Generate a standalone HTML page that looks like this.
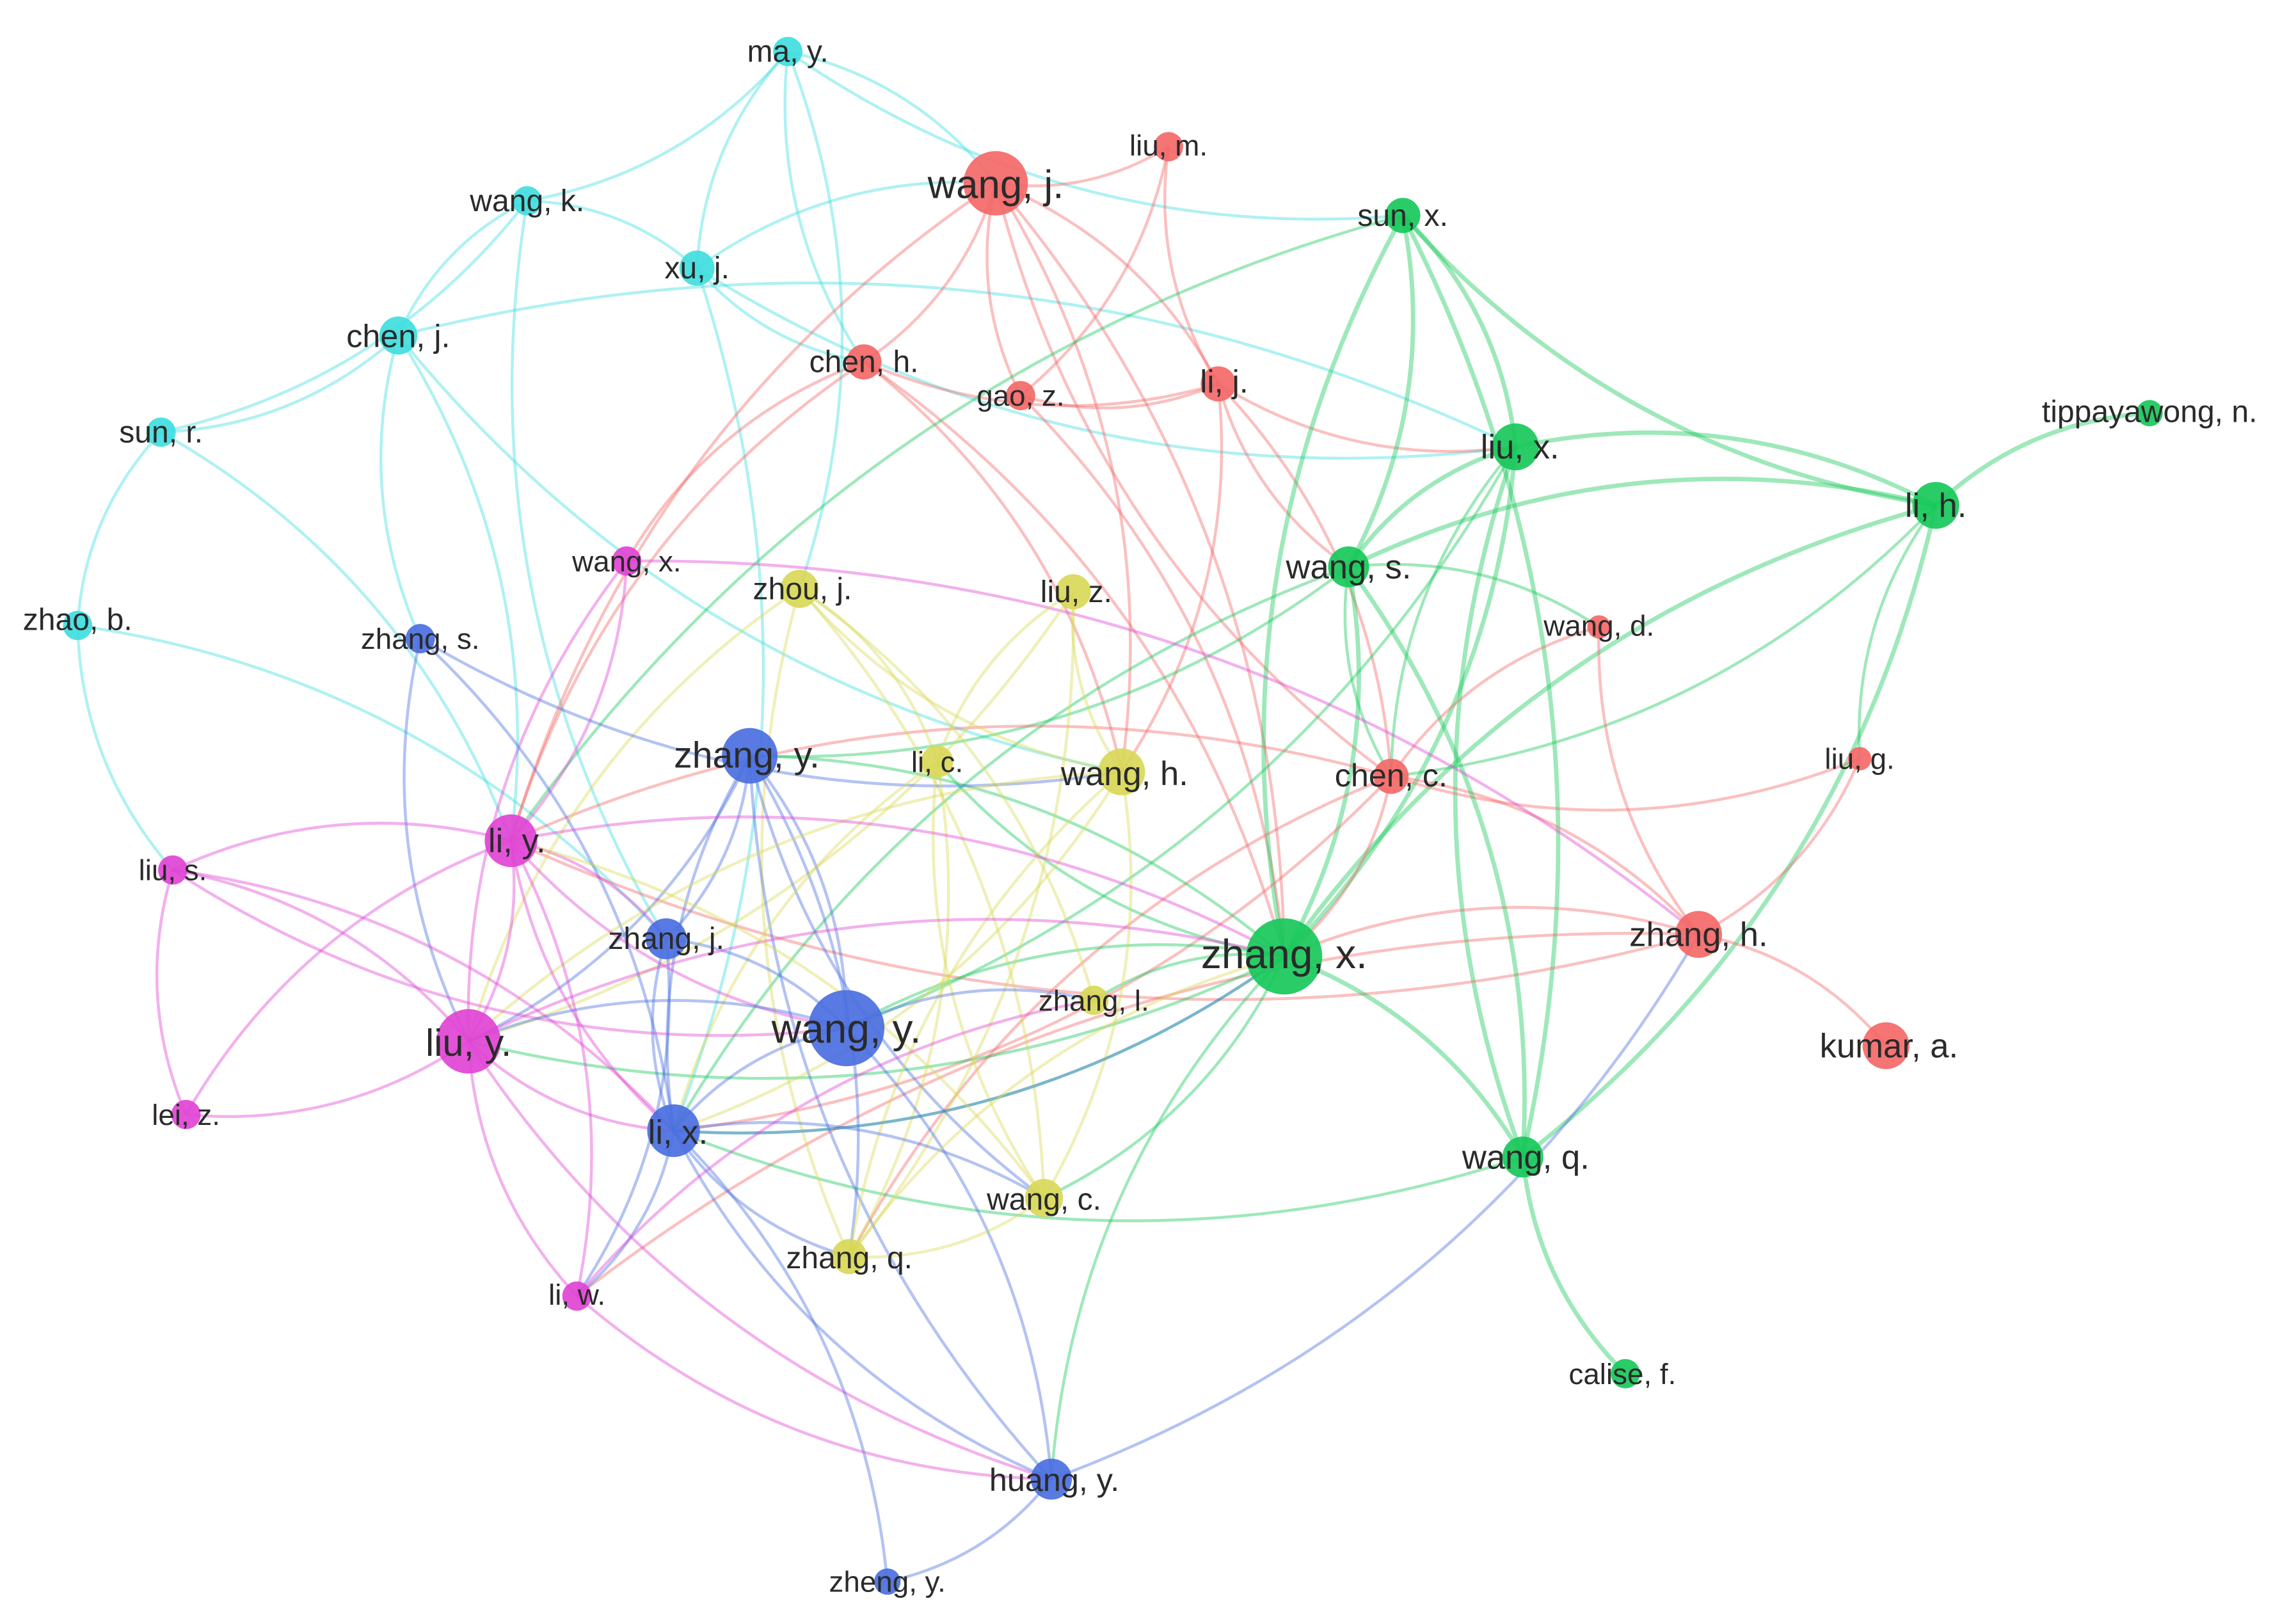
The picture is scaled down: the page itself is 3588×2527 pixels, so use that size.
<!DOCTYPE html>
<html><head><meta charset="utf-8">
<style>
html,body{margin:0;padding:0;background:#fff;}
svg{display:block;}
text{font-family:"Liberation Sans","DejaVu Sans",sans-serif;fill:#2a2a2a;}
</style></head>
<body>
<svg id="s" width="3588" height="2527" viewBox="0 0 1568 1104" xmlns="http://www.w3.org/2000/svg">
<rect width="1568" height="1104" fill="#fff"/>
<g id="edges" fill="none" stroke-width="2" stroke-opacity="0.42"></g>
<g id="nodes" fill-opacity="0.92"></g>
<g id="labels" text-anchor="middle">
<text x="538" y="42" font-size="21">ma, y.</text>
<text x="360" y="144" font-size="21">wang, k.</text>
<text x="476" y="190" font-size="21">xu, j.</text>
<text x="272" y="237" font-size="22">chen, j.</text>
<text x="110" y="302" font-size="21">sun, r.</text>
<text x="53" y="430" font-size="21">zhao, b.</text>
<text x="680" y="135" font-size="27">wang, j.</text>
<text x="798" y="106" font-size="20">liu, m.</text>
<text x="590" y="254" font-size="21">chen, h.</text>
<text x="697" y="277" font-size="20">gao, z.</text>
<text x="836" y="268" font-size="22">li, j.</text>
<text x="958" y="154" font-size="21">sun, x.</text>
<text x="1038" y="313" font-size="23">liu, x.</text>
<text x="1322" y="353" font-size="23">li, h.</text>
<text x="1468" y="288" font-size="21">tippayawong, n.</text>
<text x="921" y="395" font-size="23">wang, s.</text>
<text x="1092" y="434" font-size="20">wang, d.</text>
<text x="1270" y="525" font-size="20">liu, g.</text>
<text x="950" y="537" font-size="22">chen, c.</text>
<text x="1160" y="646" font-size="23">zhang, h.</text>
<text x="1290" y="722" font-size="23">kumar, a.</text>
<text x="877" y="661" font-size="28">zhang, x.</text>
<text x="1042" y="798" font-size="23">wang, q.</text>
<text x="1108" y="945" font-size="20">calise, f.</text>
<text x="428" y="390" font-size="20">wang, x.</text>
<text x="548" y="409" font-size="21">zhou, j.</text>
<text x="735" y="411" font-size="21">liu, z.</text>
<text x="287" y="443" font-size="20">zhang, s.</text>
<text x="510" y="524" font-size="25">zhang, y.</text>
<text x="640" y="527" font-size="20">li, c.</text>
<text x="768" y="536" font-size="23">wang, h.</text>
<text x="353" y="582" font-size="23">li, y.</text>
<text x="118" y="601" font-size="20">liu, s.</text>
<text x="455" y="648" font-size="21">zhang, j.</text>
<text x="578" y="712" font-size="28">wang, y.</text>
<text x="747" y="690" font-size="20">zhang, l.</text>
<text x="320" y="721" font-size="26">liu, y.</text>
<text x="127" y="768" font-size="20">lei, z.</text>
<text x="463" y="781" font-size="23">li, x.</text>
<text x="713" y="826" font-size="21">wang, c.</text>
<text x="580" y="866" font-size="21">zhang, q.</text>
<text x="394" y="891" font-size="20">li, w.</text>
<text x="720" y="1018" font-size="22">huang, y.</text>
<text x="606" y="1087" font-size="20">zheng, y.</text>
</g>
</svg>
<script>
var C={c:"#40dde0",r:"#f46868",g:"#18c85a",b:"#4a6fe0",m:"#e044d4",y:"#d8d858"};
var N={
may:[538,35,10,"c"],wangk:[360,137,10,"c"],xuj:[476,183,12,"c"],chenj:[272,229,13,"c"],sunr:[110,295,10,"c"],zhaob:[53,427,10,"c"],
wangj:[680,125,22,"r"],lium:[798,100,10,"r"],chenh:[590,247,12,"r"],gaoz:[697,270,10,"r"],lij:[832,262,12,"r"],
sunx:[958,147,12,"g"],liux:[1035,305,16,"g"],lih:[1322,345,16,"g"],tip:[1468,282,9,"g"],wangs:[921,387,14,"g"],
wangd:[1092,428,8,"r"],liug:[1270,518,8,"r"],chenc:[950,530,12,"r"],zhangh:[1160,638,16,"r"],kumar:[1288,714,16,"r"],
zhangx:[877,653,26,"g"],wangq:[1040,790,14,"g"],calise:[1110,938,10,"g"],
wangx:[428,383,10,"m"],zhouj:[546,402,13,"y"],liuz:[733,404,12,"y"],zhangs:[287,436,10,"b"],zhangy:[512,516,19,"b"],
lic:[640,520,11,"y"],wangh:[766,527,16,"y"],liy:[349,574,18,"m"],lius:[118,594,10,"m"],zhangj:[455,641,14,"b"],
wangy:[578,702,26,"b"],zhangl:[747,683,10,"y"],liuy:[320,711,22,"m"],leiz:[127,761,10,"m"],lix:[460,772,18,"b"],
wangc:[713,818,13,"y"],zhangq:[580,858,12,"y"],liw:[394,885,10,"m"],huangy:[718,1010,14,"b"],zhengy:[606,1080,9,"b"]};
var E="may-wangk may-xuj may-wangj may-sunx may-zhouj may-chenh wangk-xuj wangk-chenj wangk-sunr wangk-zhangj xuj-wangj xuj-chenh xuj-lix xuj-liux chenj-sunr chenj-zhangs chenj-liy chenj-wangh chenj-liux sunr-zhaob sunr-liy zhaob-lius zhaob-zhangj "+
"wangj-lium wangj-chenh wangj-gaoz wangj-lij wangj-chenc wangj-wangh wangj-liy wangj-zhangx lium-lij lium-gaoz chenh-lij chenh-wangh chenh-liy chenh-zhangx chenh-wangx gaoz-zhangx gaoz-lij lij-chenc lij-wangs lij-wangh lij-liux "+
"sunx-liux sunx-lih sunx-wangs sunx-zhangx sunx-wangq sunx-liy liux-lih liux-wangs liux-zhangx liux-chenc liux-wangy liux-wangq lih-tip lih-zhangx lih-chenc lih-liug lih-wangq lih-wangs wangs-zhangx wangs-chenc wangs-wangd wangs-lix wangs-zhangy "+
"wangd-chenc chenc-zhangh chenc-liug chenc-zhangx chenc-liy chenc-lix chenc-zhangq liug-zhangh wangd-zhangh zhangh-kumar zhangh-zhangx zhangh-liy zhangh-liw zhangx-wangq zhangx-wangy zhangx-lix zhangx-zhangy zhangx-wangc zhangx-huangy zhangx-liuy zhangx-zhangl zhangx-lic wangq-calise wangq-lix wangq-wangs "+
"wangx-liy wangx-liuy wangx-zhangh zhouj-wangh zhouj-lic zhouj-zhangq zhouj-wangc zhouj-liuy zhouj-zhangl liuz-wangh liuz-liuy liuz-lic liuz-zhangq zhangs-liuy zhangs-lix zhangs-wangh zhangy-wangy zhangy-lix zhangy-zhangj zhangy-huangy zhangy-liuy zhangy-wangc zhangy-zhangq "+
"lic-wangc lic-zhangq lic-lix wangh-wangc wangh-zhangq wangh-lix wangh-liuy liy-liuy liy-lix liy-liw liy-lius liy-zhangj liy-wangy liy-zhangx liy-leiz lius-liuy lius-leiz lius-lix lius-wangy zhangj-wangy zhangj-lix zhangj-liw wangy-lix wangy-huangy wangy-liuy wangy-zhangl "+
"liuy-lix liuy-leiz liuy-liw liuy-zhangx liuy-huangy lix-liw lix-zhangq lix-wangc lix-huangy lix-zhengy lix-zhangx wangc-zhangq wangc-liy liw-zhangl liw-huangy huangy-zhengy huangy-zhangh zhangq-zhangx";
var g=document.getElementById("edges"),h="";
E.split(" ").forEach(function(e,i){var p=e.split("-"),a=N[p[0]],b=N[p[1]];if(!a||!b)return;
var dx=b[0]-a[0],dy=b[1]-a[1],k=(i%2?0.18:-0.18),mx=(a[0]+b[0])/2-dy*k,my=(a[1]+b[1])/2+dx*k;
var w=(a[3]=="g"&&b[3]=="g")?3:2;
h+='<path d="M'+a[0]+' '+a[1]+' Q'+mx+' '+my+' '+b[0]+' '+b[1]+'" stroke="'+C[a[3]]+'" stroke-width="'+w+'"/>';});
g.innerHTML=h;
var n="";for(var k in N){var d=N[k];n+='<circle cx="'+d[0]+'" cy="'+d[1]+'" r="'+d[2]+'" fill="'+C[d[3]]+'"/>';}
document.getElementById("nodes").innerHTML=n;
</script>
</body></html>
